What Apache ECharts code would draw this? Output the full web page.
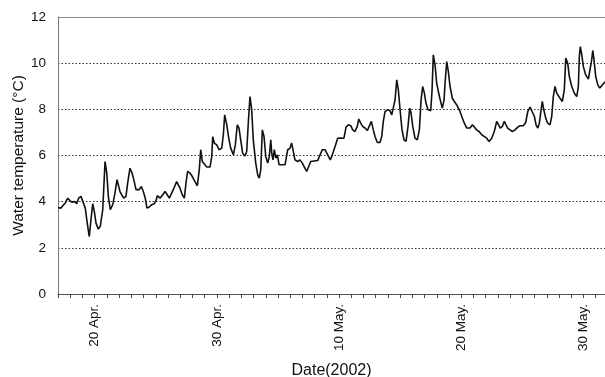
<!DOCTYPE html>
<html>
<head>
<meta charset="utf-8">
<script src="https://cdn.jsdelivr.net/npm/echarts@6/dist/echarts.min.js"></script>
<style>
html,body{margin:0;padding:0;background:#fff;}
#chart{width:605px;height:377px;}
</style>
</head>
<body>
<div id="chart"></div>
<script>
// Days elapsed since 17 Apr 2002 00:00
var dayOffsets = [
0.00,0.25,0.38,0.60,0.79,0.98,1.15,1.33,1.53,1.69,1.88,2.02,2.23,2.43,2.56,2.70,2.84,2.97,3.11,3.30,
3.46,3.66,3.85,3.99,4.12,4.28,4.48,4.66,4.83,4.97,5.07,5.21,5.38,5.56,5.70,5.89,6.06,6.24,6.38,6.65,
6.82,6.98,7.14,7.28,7.47,7.67,7.88,8.02,8.13,8.35,8.57,8.76,8.94,9.11,9.30,9.49,9.71,9.84,9.98,10.17,
10.34,10.47,10.61,10.80,10.99,11.21,11.40,11.56,11.68,11.81,11.97,12.17,12.44,12.58,12.66,12.79,12.99,13.18,13.40,13.53,
13.64,13.81,13.97,14.13,14.35,14.51,14.67,14.81,14.95,15.11,15.30,15.44,15.57,15.71,15.85,15.98,16.18,16.34,16.47,16.59,
16.72,16.86,17.00,17.16,17.29,17.41,17.49,17.59,17.70,17.82,17.95,18.09,18.31,18.58,18.80,18.99,19.12,19.26,19.39,19.62,
19.80,19.99,20.16,20.35,20.48,20.68,20.84,21.25,21.44,21.63,21.85,22.07,22.28,22.45,22.67,22.89,23.08,23.22,23.40,23.57,
23.76,23.95,24.12,24.30,24.49,24.61,24.77,24.93,25.12,25.31,25.47,25.64,25.80,25.94,26.13,26.35,26.49,26.62,26.76,26.95,
27.17,27.31,27.44,27.58,27.72,27.85,27.99,28.15,28.31,28.48,28.64,28.78,28.89,29.03,29.21,29.40,29.57,29.71,29.84,29.98,
30.11,30.28,30.50,30.61,30.71,30.85,30.99,31.18,31.34,31.45,31.59,31.67,31.81,31.94,32.08,32.27,32.43,32.63,32.76,32.90,
33.04,33.25,33.45,33.72,33.91,34.07,34.26,34.45,34.67,34.89,35.08,35.27,35.49,35.70,35.90,36.03,36.19,36.36,36.52,36.66,
36.80,36.99,37.18,37.40,37.62,37.81,38.08,38.27,38.44,38.63,38.79,38.98,39.12,39.26,39.39,39.53,39.63,39.75,39.91,40.07,
40.26,40.40,40.53,40.67,40.81,40.94,41.08,41.27,41.43,41.55,41.71,41.84,42.04,42.25,42.45,42.58,42.66,42.74,42.86,42.99,
43.18,43.40,43.54,43.67,43.76,43.86,44.00,44.17,44.33,44.49,44.66,44.76
];
// Water temperature (°C)
var waterTemp = [
3.75,3.72,3.82,3.94,4.15,4.05,3.97,4.01,3.91,4.15,4.23,4.15,3.72,2.93,2.49,3.22,3.91,3.58,3.07,2.81,
2.93,3.65,5.74,5.24,4.23,3.65,3.87,4.37,4.95,4.66,4.44,4.30,4.15,4.23,4.80,5.45,5.24,4.87,4.52,4.52,
4.66,4.44,4.15,3.72,3.77,3.87,3.91,4.05,4.26,4.15,4.30,4.44,4.30,4.15,4.37,4.59,4.87,4.95,4.59,4.30,
4.15,4.80,5.31,5.24,5.09,4.87,4.69,5.38,6.25,5.74,5.67,5.50,5.50,5.96,6.82,6.54,6.46,6.25,6.32,6.90,
7.76,7.33,6.75,6.32,6.03,6.46,7.33,7.19,6.68,6.10,5.98,6.17,7.40,8.55,7.98,6.68,5.67,5.16,5.02,5.38,
7.11,6.82,5.96,5.67,5.96,6.68,6.10,5.81,6.25,5.89,6.03,5.60,5.60,5.60,6.25,6.32,6.54,6.17,5.81,5.74,
5.81,5.67,5.50,5.31,5.38,5.74,5.78,5.78,6.03,6.25,6.25,6.03,5.81,6.03,6.39,6.75,6.76,6.68,6.75,7.23,
7.33,7.29,7.11,7.04,7.26,7.58,7.40,7.26,7.19,7.08,7.04,7.48,7.11,6.82,6.56,6.56,6.82,7.48,7.90,7.98,
7.94,7.76,7.69,8.41,9.28,8.84,7.98,7.11,6.68,6.61,7.26,8.05,7.84,7.26,6.75,6.68,7.11,8.41,8.99,8.70,
8.27,7.98,7.94,8.84,10.36,9.93,9.13,8.63,8.27,8.05,8.41,9.13,10.07,9.64,8.99,8.48,8.34,8.19,8.05,7.90,
7.69,7.40,7.19,7.19,7.33,7.29,7.11,7.04,6.90,6.82,6.75,6.61,6.75,7.04,7.48,7.40,7.19,7.26,7.48,7.33,
7.19,7.11,7.04,7.11,7.23,7.29,7.29,7.43,7.90,8.10,8.05,7.69,7.33,7.19,7.40,7.98,8.34,7.98,7.62,7.40,
7.33,7.69,8.55,8.99,8.70,8.63,8.48,8.34,8.84,10.22,10.00,9.42,8.99,8.70,8.55,8.99,10.29,10.72,10.36,9.85,
9.49,9.31,9.31,10.14,10.55,10.14,9.42,9.06,8.92,8.92,9.13,9.20
];
var tickDays = [3, 13, 23, 33, 43];
var tickLabels = ['20 Apr.', '30 Apr.', '10 May.', '20 May.', '30 May.'];
var yTicks = [0, 2, 4, 6, 8, 10, 12];

var seriesData = dayOffsets.map(function (d, i) { return [d, waterTemp[i]]; });

var chart = echarts.init(document.getElementById('chart'), null, {renderer: 'canvas'});
var font = 'Liberation Sans, Arial, Helvetica, sans-serif';
chart.setOption({
  animation: false,
  backgroundColor: '#fff',
  grid: {left: 58, right: 0, top: 17, bottom: 83, containLabel: false, outerBoundsMode: 'none'},
  xAxis: [{
    type: 'value',
    min: 0,
    max: 44.76,
    interval: 1,
    name: 'Date(2002)',
    nameLocation: 'middle',
    nameGap: 69,
    nameMoveOverlap: false,
    nameTextStyle: {fontFamily: font, fontSize: 16, color: '#111'},
    axisLine: {show: true, lineStyle: {color: '#555', width: 1}},
    axisTick: {show: true, inside: false, length: 4, lineStyle: {color: '#444', width: 1}},
    axisLabel: {
      rotate: 90, margin: 10, fontFamily: font, fontSize: 13.5, color: '#111',
      showMaxLabel: false,
      formatter: function (v) {
        var r = Math.round(v);
        if (Math.abs(v - r) > 1e-6) return '';
        var k = tickDays.indexOf(r);
        return k >= 0 ? tickLabels[k] : '';
      }
    },
    splitLine: {show: false}
  }, {
    type: 'value',
    position: 'top',
    min: 0,
    max: 44.76,
    axisLine: {show: true, lineStyle: {color: '#888', width: 1}},
    axisTick: {show: false},
    axisLabel: {show: false},
    splitLine: {show: false}
  }],
  yAxis: {
    type: 'value',
    min: yTicks[0],
    max: yTicks[yTicks.length - 1],
    interval: 2,
    name: 'Water temperature (°C)',
    nameLocation: 'middle',
    nameGap: 31,
    nameMoveOverlap: false,
    nameTextStyle: {fontFamily: font, fontSize: 15.5, color: '#111'},
    axisLine: {show: true, lineStyle: {color: '#777', width: 1}},
    axisTick: {show: false},
    axisLabel: {margin: 12, fontFamily: font, fontSize: 13.5, color: '#111'},
    splitLine: {show: true, lineStyle: {color: '#333', width: 1, type: [1.5, 2]}}
  },
  series: [{
    type: 'line',
    xAxisIndex: 0,
    data: seriesData,
    showSymbol: false,
    symbol: 'none',
    lineStyle: {color: '#111', width: 1.6},
    z: 5
  }]
});
</script>
</body>
</html>
